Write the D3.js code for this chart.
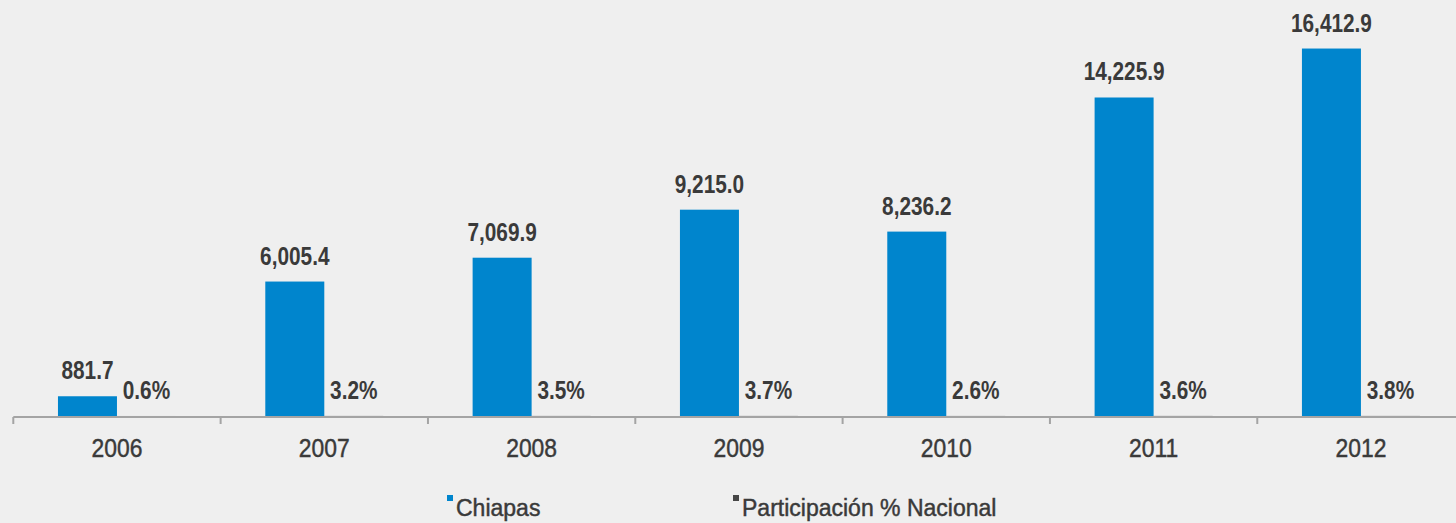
<!DOCTYPE html>
<html>
<head>
<meta charset="utf-8">
<script src="https://cdn.jsdelivr.net/npm/d3@7"></script>
<style>
  html, body { margin: 0; padding: 0; background: #efefef; }
  svg { display: block; }
  text { font-family: "Liberation Sans", Arial, sans-serif; fill: #3a3a3a; }
  text.medium { stroke: #3a3a3a; stroke-width: 0.45px; }
</style>
</head>
<body>
<svg id="chart" width="1456" height="523"></svg>
<script>
// Chiapas: annual amounts and share of the national total
const years = ["2006", "2007", "2008", "2009", "2010", "2011", "2012"];
const chiapas = [881.7, 6005.4, 7069.9, 9215.0, 8236.2, 14225.9, 16412.9];
const participacion = [0.6, 3.2, 3.5, 3.7, 2.6, 3.6, 3.8];
const seriesNames = ["Chiapas", "Participación % Nacional"];
const seriesColors = ["#0085cd", "#464646"];

const W = 1456, H = 523;
const baseY = 416;

// narrow lettering: horizontal squeeze around the anchor point
const squeeze = (px, py, sx) => `translate(${px},${py}) scale(${sx},1)`;

const svg = d3.select("#chart");
svg.append("rect").attr("width", W).attr("height", H).attr("fill", "#efefef");

const x = d3.scaleBand().domain(years).range([13.3, 1464.6]).padding(0);
const xSub = d3.scaleBand().domain(seriesNames).range([0, x.bandwidth()])
  .paddingInner(0).paddingOuter(0.757);
const y = d3.scaleLinear().domain([0, 18000]).range([baseY, 13]);

const rows = years.map((yr, i) => ({
  year: yr,
  values: [
    { key: seriesNames[0], v: chiapas[i], label: d3.format(",.1f")(chiapas[i]), color: seriesColors[0] },
    { key: seriesNames[1], v: participacion[i], label: d3.format(".1f")(participacion[i]) + "%", color: seriesColors[1] }
  ]
}));

const groups = svg.append("g").selectAll("g").data(rows).join("g")
  .attr("transform", d => `translate(${x(d.year)},0)`);

groups.selectAll("rect").data(d => d.values).join("rect")
  .attr("x", d => xSub(d.key))
  .attr("width", xSub.bandwidth())
  .attr("y", d => y(d.v))
  .attr("height", d => baseY - y(d.v))
  .attr("fill", d => d.color);

groups.selectAll("text.val").data(d => d.values).join("text")
  .attr("class", "val")
  .attr("transform", d => squeeze(xSub(d.key) + xSub.bandwidth() / 2, y(d.v) - 17, 0.8))
  .attr("text-anchor", "middle")
  .style("font-size", "26px")
  .style("font-weight", "bold")
  .text(d => d.label);

// category axis with ticks on band boundaries
const axisG = svg.append("g");
axisG.append("line")
  .attr("x1", x.range()[0]).attr("x2", W)
  .attr("y1", baseY + 1).attr("y2", baseY + 1)
  .attr("stroke", "#a4a4a4").attr("stroke-width", 2);
const bounds = years.map(yr => x(yr)).concat([x.range()[1]]);
axisG.selectAll("line.tick").data(bounds).join("line")
  .attr("class", "tick")
  .attr("x1", d => d).attr("x2", d => d)
  .attr("y1", baseY + 1).attr("y2", baseY + 8)
  .attr("stroke", "#a4a4a4").attr("stroke-width", 2);
axisG.selectAll("text").data(years).join("text")
  .attr("class", "medium")
  .attr("transform", d => squeeze(x(d) + x.bandwidth() / 2, 457, 0.88))
  .attr("text-anchor", "middle")
  .style("font-size", "26px")
  .text(d => d);

// legend
const legendX = [447, 733];
const legend = svg.append("g").selectAll("g").data(seriesNames).join("g")
  .attr("transform", (d, i) => `translate(${legendX[i]},0)`);
legend.append("rect")
  .attr("x", 0).attr("y", 495).attr("width", 6).attr("height", 6)
  .attr("fill", (d, i) => seriesColors[i]);
legend.append("text")
  .attr("class", "medium")
  .attr("transform", squeeze(9, 516, 1.0))
  .style("font-size", "23px")
  .text(d => d);
</script>
</body>
</html>
